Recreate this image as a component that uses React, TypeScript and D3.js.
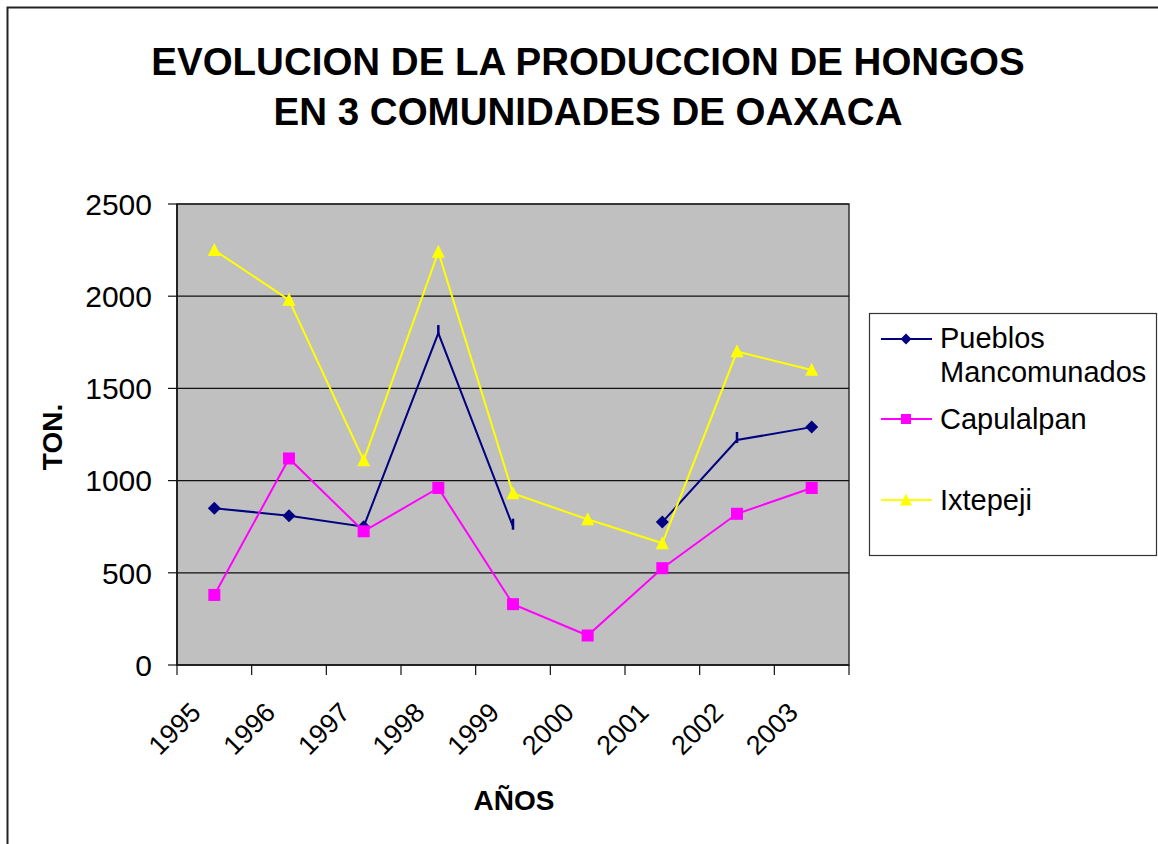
import * as React from 'react';
import * as d3 from 'd3';

const years = ['1995', '1996', '1997', '1998', '1999', '2000', '2001', '2002', '2003'];
const pueblos: (number | null)[] = [850, 810, 750, 1800, 750, null, 775, 1220, 1290];
// points drawn by the original as a short vertical dash instead of a diamond
const pueblosDash = [false, false, false, true, true, false, false, true, false];
const capulalpan = [380, 1120, 725, 960, 330, 160, 525, 820, 960];
const ixtepeji = [2250, 1980, 1110, 2240, 930, 790, 660, 1700, 1600];
const yTicks = [0, 500, 1000, 1500, 2000, 2500];

const W = 1158;
const H = 844;
const left = 177;
const right = 849;
const top = 204;
const bottom = 665;
const font = 'Arial, "Liberation Sans", sans-serif';

const x = d3.scaleBand().domain(years).range([left, right]);
const y = d3.scaleLinear().domain([0, 2500]).range([bottom, top]);
const cx = (i: number) => (x(years[i]) as number) + x.bandwidth() / 2;

const lineGen = d3
  .line<number | null>()
  .defined((d) => d !== null)
  .x((d, i) => cx(i))
  .y((d) => y(d as number));

const Diamond = ({ px, py, r = 6.5, color }) => (
  <path d={`M${px},${py - r}L${px + r},${py}L${px},${py + r}L${px - r},${py}Z`} fill={color} />
);
const Square = ({ px, py, s = 12, color }) => (
  <rect x={px - s / 2} y={py - s / 2} width={s} height={s} fill={color} />
);
const Triangle = ({ px, py, s = 13, color }) => (
  <path d={`M${px},${py - s * 0.55}L${px + s / 2},${py + s * 0.45}L${px - s / 2},${py + s * 0.45}Z`} fill={color} />
);

const App = () => {
  const plotW = right - left;
  return (
    <svg width={W} height={H} style={{ position: 'absolute', left: 0, top: 0 }} fontFamily={font}>
      <rect x={0} y={0} width={W} height={H} fill='white' />
      <rect x={7.5} y={7.5} width={W + 10} height={H + 10} fill='none' stroke='#222' strokeWidth={2} />

      <text x={588} y={75} textAnchor='middle' fontSize={38.5} fontWeight='bold'>
        EVOLUCION DE LA PRODUCCION DE HONGOS
      </text>
      <text x={588} y={125} textAnchor='middle' fontSize={38.5} fontWeight='bold'>
        EN 3 COMUNIDADES DE OAXACA
      </text>

      <rect x={left} y={top} width={plotW} height={bottom - top} fill='#C0C0C0' stroke='#333' strokeWidth={1.5} />
      {yTicks.map((t) => (
        <g key={t}>
          {t > 0 && <line x1={left} x2={right} y1={y(t)} y2={y(t)} stroke='#111' strokeWidth={1.2} />}
          <line x1={168} x2={left} y1={y(t)} y2={y(t)} stroke='#111' strokeWidth={1.2} />
          <text x={152} y={y(t)} dy='0.36em' textAnchor='end' fontSize={30}>
            {t}
          </text>
        </g>
      ))}
      <line x1={left} x2={left} y1={top} y2={bottom} stroke='#111' strokeWidth={1.5} />
      <line x1={left} x2={right} y1={bottom} y2={bottom} stroke='#111' strokeWidth={1.5} />
      {years.map((yr) => (
        <line key={'t' + yr} x1={x(yr)} x2={x(yr)} y1={bottom} y2={675} stroke='#111' strokeWidth={1.2} />
      ))}
      <line x1={right} x2={right} y1={bottom} y2={675} stroke='#111' strokeWidth={1.2} />
      {years.map((yr, i) => (
        <text
          key={'l' + yr}
          transform={`translate(${cx(i) - 12},${714}) rotate(-45)`}
          textAnchor='end'
          fontSize={27}
        >
          {yr}
        </text>
      ))}

      <text x={514} y={810} textAnchor='middle' fontSize={28} fontWeight='bold'>
        AÑOS
      </text>
      <text transform='translate(62,437) rotate(-90)' textAnchor='middle' fontSize={28} fontWeight='bold'>
        TON.
      </text>

      <path d={lineGen(pueblos) as string} fill='none' stroke='#000080' strokeWidth={2} />
      {pueblos.map((v, i) =>
        v === null ? null : pueblosDash[i] ? (
          <line key={'p' + i} x1={cx(i)} x2={cx(i)} y1={y(v) - 8} y2={y(v) + 3} stroke='#000080' strokeWidth={2.5} />
        ) : (
          <Diamond key={'p' + i} px={cx(i)} py={y(v)} color='#000080' />
        )
      )}
      <path d={lineGen(capulalpan) as string} fill='none' stroke='#FF00FF' strokeWidth={2} />
      {capulalpan.map((v, i) => (
        <Square key={'c' + i} px={cx(i)} py={y(v)} color='#FF00FF' />
      ))}
      <path d={lineGen(ixtepeji) as string} fill='none' stroke='#FFFF00' strokeWidth={2} />
      {ixtepeji.map((v, i) => (
        <Triangle key={'x' + i} px={cx(i)} py={y(v)} color='#FFFF00' />
      ))}

      <rect x={869.5} y={313.5} width={287} height={242} fill='white' stroke='#333' strokeWidth={1.2} />
      <line x1={881} x2={932} y1={339} y2={339} stroke='#000080' strokeWidth={2} />
      <Diamond px={906} py={339} r={5.5} color='#000080' />
      <text x={940} y={348} fontSize={29}>Pueblos</text>
      <text x={940} y={382} fontSize={29}>Mancomunados</text>
      <line x1={881} x2={932} y1={419} y2={419} stroke='#FF00FF' strokeWidth={2} />
      <Square px={906} py={419} s={10} color='#FF00FF' />
      <text x={940} y={429} fontSize={29}>Capulalpan</text>
      <line x1={881} x2={932} y1={500} y2={500} stroke='#FFFF00' strokeWidth={2} />
      <Triangle px={906} py={500} s={12} color='#FFFF00' />
      <text x={940} y={510} fontSize={29}>Ixtepeji</text>
    </svg>
  );
};

export default App;
